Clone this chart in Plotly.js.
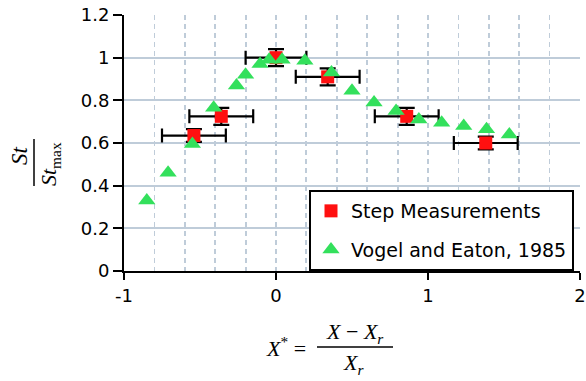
<!DOCTYPE html>
<html>
<head>
<meta charset="utf-8">
<script src="https://cdn.plot.ly/plotly-3.0.1.min.js"></script>
<style>
html,body{margin:0;padding:0;background:#fff;}
#chart{width:586px;height:381px;}
</style>
</head>
<body>
<div id="chart"></div>
<script>
// Step Measurements
var stepX = [-0.54, -0.36, 0.0, 0.34, 0.86, 1.38];
var stepY = [0.635, 0.725, 1.0, 0.91, 0.725, 0.60];
var stepXErr = [0.21, 0.21, 0.20, 0.21, 0.21, 0.21];
var stepYErr = [0.03, 0.04, 0.04, 0.04, 0.04, 0.03];

// Vogel and Eaton, 1985
var vogelX = [-0.85, -0.71, -0.55, -0.41, -0.26, -0.20, -0.105, -0.045, 0.04, 0.19, 0.365, 0.50, 0.645, 0.79, 0.94, 1.09, 1.235, 1.385, 1.535];
var vogelY = [0.33, 0.46, 0.595, 0.765, 0.87, 0.92, 0.97, 0.99, 0.99, 0.985, 0.93, 0.845, 0.79, 0.75, 0.71, 0.695, 0.68, 0.665, 0.64];

var seriesNames = ['Step Measurements', 'Vogel and Eaton, 1985'];
var yTicks = [0, 0.2, 0.4, 0.6, 0.8, 1, 1.2];
var xTicks = [-1, 0, 1, 2];

var L = 124, R = 6, T = 15, B = 110, W = 586, H = 381;
var pw = W - L - R, ph = H - T - B;
function px(x){ return (x - L) / pw; }
function py(y){ return (H - B - y) / ph; }

var serif = 'Liberation Serif, Times New Roman, serif';
var gridCol = '#bfccd9';

var traces = [
  {
    x: stepX, y: stepY, name: seriesNames[0], type: 'scatter', mode: 'markers',
    legendgroup: 'a',
    marker: {symbol: 'square', size: 13, color: '#ff1010'},
    error_x: {type: 'data', array: stepXErr, visible: true, color: '#000', thickness: 2.2, width: 7},
    error_y: {type: 'data', array: stepYErr, visible: true, color: '#000', thickness: 2.2, width: 8}
  },
  {
    x: vogelX, y: vogelY, name: seriesNames[1], type: 'scatter', mode: 'markers',
    legendgroup: 'b',
    marker: {symbol: 'triangle-up', size: 15, color: '#33e05c'}
  }
];

var layout = {
  width: W, height: H,
  margin: {l: L, r: R, t: T, b: B, pad: 0},
  paper_bgcolor: '#fff', plot_bgcolor: '#fff',
  font: {family: 'DejaVu Sans, sans-serif', size: 18, color: '#000'},
  showlegend: true,
  legend: {
    x: px(309), y: 0, xanchor: 'left', yanchor: 'bottom',
    bgcolor: '#fff', bordercolor: '#000', borderwidth: 2,
    font: {family: 'DejaVu Sans, sans-serif', size: 19, color: '#000'},
    tracegroupgap: 11
  },
  xaxis: {
    range: [-1, 2], tickvals: xTicks, ticktext: xTicks.map(String),
    showline: true, linecolor: '#000', linewidth: 2,
    ticks: 'outside', ticklen: 7, tickwidth: 2, tickcolor: '#000',
    showgrid: true, gridcolor: gridCol, gridwidth: 1.8, griddash: '5px,4px',
    zeroline: false,
    minor: {dtick: 0.2, tick0: -1, showgrid: true, gridcolor: gridCol, gridwidth: 1.8, griddash: '5px,4px', ticks: ''},
    tickfont: {size: 18}
  },
  yaxis: {
    range: [0, 1.2], tickvals: yTicks, ticktext: yTicks.map(String),
    showline: true, linecolor: '#000', linewidth: 2,
    ticks: 'outside', ticklen: 9, tickwidth: 2, tickcolor: '#000',
    showgrid: true, gridcolor: gridCol, gridwidth: 2,
    zeroline: false,
    tickfont: {size: 18}
  },
  annotations: [
    {xref: 'paper', yref: 'paper', x: px(19), y: py(156), text: '<i>St</i>', showarrow: false, textangle: -90,
     xanchor: 'center', yanchor: 'middle', font: {family: serif, size: 23, color: '#000'}},
    {xref: 'paper', yref: 'paper', x: px(50), y: py(164), text: '<i>St</i><sub>max</sub>', showarrow: false, textangle: -90,
     xanchor: 'center', yanchor: 'middle', font: {family: serif, size: 22, color: '#000'}},
    {xref: 'paper', yref: 'paper', x: px(286), y: py(347), text: '<i>X</i><sup>*</sup> =', showarrow: false,
     xanchor: 'center', yanchor: 'middle', font: {family: serif, size: 22, color: '#000'}},
    {xref: 'paper', yref: 'paper', x: px(355), y: py(333), text: '<i>X</i> − <i>X</i><sub><i>r</i></sub>', showarrow: false,
     xanchor: 'center', yanchor: 'middle', font: {family: serif, size: 22, color: '#000'}},
    {xref: 'paper', yref: 'paper', x: px(353), y: py(364), text: '<i>X</i><sub><i>r</i></sub>', showarrow: false,
     xanchor: 'center', yanchor: 'middle', font: {family: serif, size: 22, color: '#000'}}
  ],
  shapes: [
    {type: 'line', xref: 'paper', yref: 'paper', x0: px(34), x1: px(34), y0: py(139), y1: py(186), line: {color: '#000', width: 1.5}},
    {type: 'line', xref: 'paper', yref: 'paper', x0: px(317), x1: px(393), y0: py(347), y1: py(347), line: {color: '#000', width: 1.5}}
  ]
};

Plotly.newPlot('chart', traces, layout, {displayModeBar: false, staticPlot: true, responsive: false});
</script>
</body>
</html>
